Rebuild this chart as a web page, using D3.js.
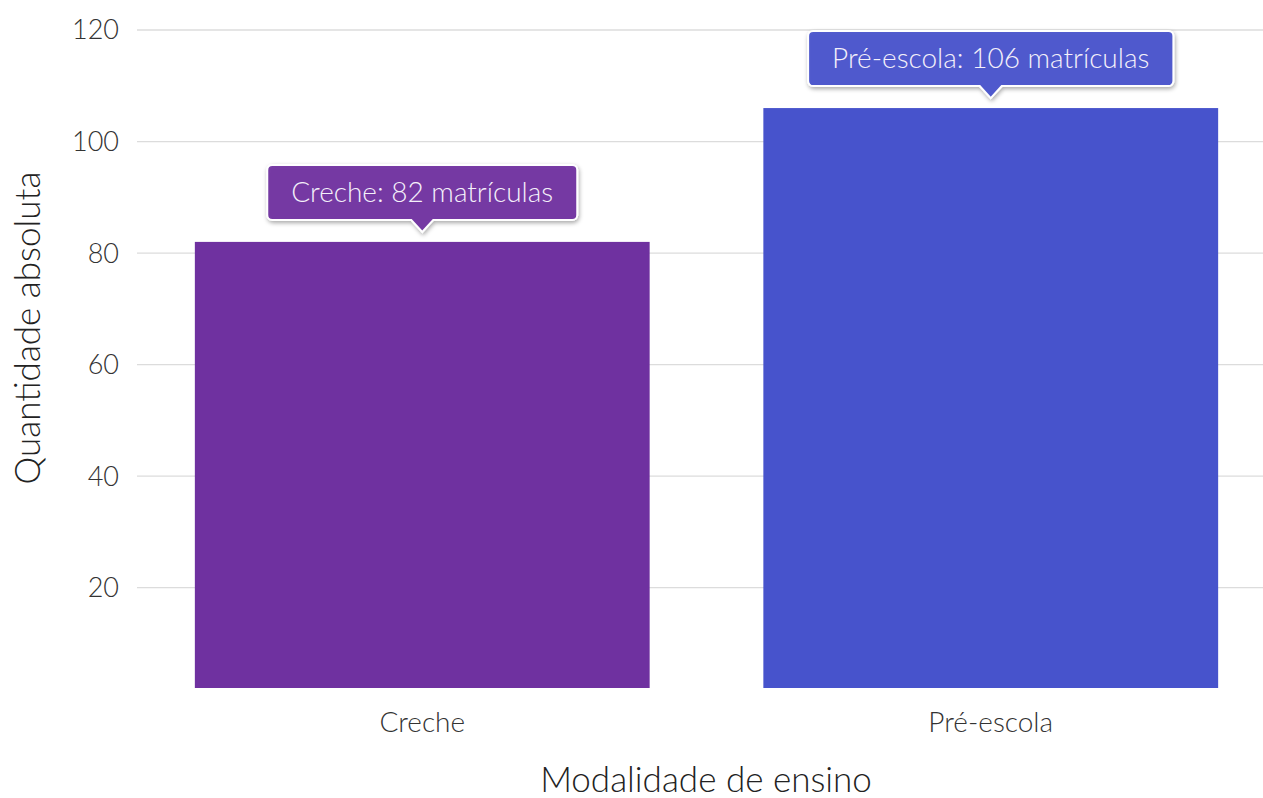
<!DOCTYPE html>
<html>
<head>
<meta charset="utf-8">
<script src="https://cdn.jsdelivr.net/npm/d3@7"></script>
<style>
  body { margin: 0; background: #fff; }
  text { font-family: "Lato Light", Lato, "Open Sans", sans-serif; font-weight: 300; }
</style>
</head>
<body>
<div id="chart"></div>
<script>
// data
const categories = ["Creche", "Pré-escola"];
const values = [82, 106];
const colors = ["#6f31a0", "#4753cc"];
const yTicks = [20, 40, 60, 80, 100, 120];

const width = 1263, height = 798;

const svg = d3.select("#chart").append("svg")
  .attr("width", width)
  .attr("height", height);

const defs = svg.append("defs");
const shadow = defs.append("filter").attr("id", "shadow")
  .attr("x", "-10%").attr("y", "-20%").attr("width", "120%").attr("height", "150%");
shadow.append("feDropShadow")
  .attr("dx", 1).attr("dy", 2).attr("stdDeviation", 2)
  .attr("flood-color", "#000").attr("flood-opacity", 0.35);

const x = d3.scaleBand()
  .domain(categories)
  .range([138, 1275])
  .paddingInner(0.2)
  .paddingOuter(0.1);

const y = d3.scaleLinear()
  .domain([2, 120])
  .range([688, 30]);

// grid
svg.append("g")
  .selectAll("line")
  .data(yTicks)
  .join("line")
  .attr("x1", 137)
  .attr("x2", width)
  .attr("y1", d => y(d))
  .attr("y2", d => y(d))
  .attr("stroke", "#dcdcdc")
  .attr("stroke-width", 1.3);

// y tick labels
svg.append("g")
  .selectAll("text")
  .data(yTicks)
  .join("text")
  .attr("x", 119)
  .attr("y", d => y(d))
  .attr("dy", "0.35em")
  .attr("text-anchor", "end")
  .attr("fill", "#333")
  .style("font-size", "27px")
  .text(d => d);

// bars
svg.append("g")
  .selectAll("rect")
  .data(categories)
  .join("rect")
  .attr("x", d => x(d))
  .attr("width", x.bandwidth())
  .attr("y", (d, i) => y(values[i]))
  .attr("height", (d, i) => y(2) - y(values[i]))
  .attr("fill", (d, i) => colors[i]);

// x tick labels
svg.append("g")
  .selectAll("text")
  .data(categories)
  .join("text")
  .attr("x", d => x(d) + x.bandwidth() / 2)
  .attr("y", 732)
  .attr("text-anchor", "middle")
  .attr("fill", "#333")
  .style("font-size", "28px")
  .text(d => d);

// axis titles
svg.append("text")
  .attr("x", 706)
  .attr("y", 792)
  .attr("text-anchor", "middle")
  .attr("fill", "#222")
  .style("font-size", "35px")
  .text("Modalidade de ensino");

svg.append("text")
  .attr("transform", "translate(40,328) rotate(-90)")
  .attr("text-anchor", "middle")
  .attr("fill", "#222")
  .style("font-size", "35px")
  .text("Quantidade absoluta");

// tooltip labels
const labels = svg.append("g");
categories.forEach(function(c, i) {
  const cx = x(c) + x.bandwidth() / 2;
  const tipY = y(values[i]) - 10;
  const boxH = 55;
  const boxBottom = tipY - 12;
  const g = labels.append("g");

  const t = g.append("text")
    .attr("x", cx)
    .attr("y", boxBottom - boxH / 2)
    .attr("dy", "0.35em")
    .attr("text-anchor", "middle")
    .attr("fill", "#f4f0fa")
    .style("font-size", "28px")
    .text(c + ": " + values[i] + " matrículas");
  const w = t.node().getComputedTextLength() + 48;
  const left = cx - w / 2, right = cx + w / 2, top = boxBottom - boxH, r = 5;

  const p = d3.path();
  p.moveTo(left + r, top);
  p.lineTo(right - r, top);
  p.arcTo(right, top, right, top + r, r);
  p.lineTo(right, boxBottom - r);
  p.arcTo(right, boxBottom, right - r, boxBottom, r);
  p.lineTo(cx + 11, boxBottom);
  p.lineTo(cx, tipY);
  p.lineTo(cx - 11, boxBottom);
  p.lineTo(left + r, boxBottom);
  p.arcTo(left, boxBottom, left, boxBottom - r, r);
  p.lineTo(left, top + r);
  p.arcTo(left, top, left + r, top, r);
  p.closePath();

  g.insert("path", "text")
    .attr("d", p.toString())
    .attr("fill", colors[i])
    .attr("fill-opacity", 0.93)
    .attr("stroke", "#fff")
    .attr("stroke-width", 2)
    .attr("filter", "url(#shadow)");
});
</script>
</body>
</html>
